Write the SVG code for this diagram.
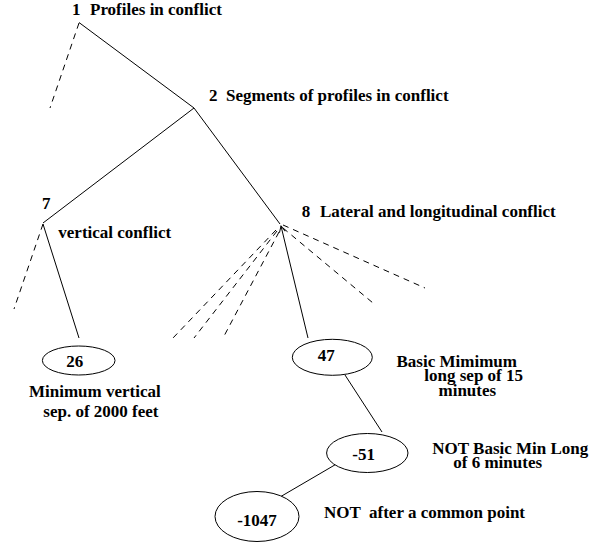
<svg xmlns="http://www.w3.org/2000/svg" width="591" height="542" viewBox="0 0 591 542">
<style>
text{font-family:"Liberation Serif","Times New Roman",serif;font-weight:bold;font-size:17px;fill:#000}
.e{fill:#fff;stroke:#000;stroke-width:1}
.s{stroke:#000;stroke-width:1;fill:none}
.d{stroke:#000;stroke-width:1;fill:none;stroke-dasharray:6 5}
.m{text-anchor:middle}
</style>
<defs>
<marker id="ah" markerWidth="8" markerHeight="8" refX="7" refY="4" orient="auto" markerUnits="userSpaceOnUse">
<path d="M1,1 L7,4 L1,7" fill="none" stroke="#000" stroke-width="1"/>
</marker>
</defs>
<rect width="591" height="542" fill="#fff"/>
<g id="connectors">
<line class="s" x1="79" y1="22.5" x2="194" y2="108"/>
<line class="d" x1="79" y1="23" x2="50" y2="108"/>
<line class="s" x1="194" y1="108" x2="43" y2="223"/>
<line class="s" x1="194" y1="108" x2="280" y2="224"/>
<line class="d" x1="43" y1="224" x2="14" y2="309"/>
<line class="s" x1="79" y1="338" x2="43" y2="224"/>
<line class="s" x1="308" y1="338" x2="281" y2="226" marker-end="url(#ah)"/>
<line class="d" x1="276" y1="230" x2="173" y2="338"/>
<line class="d" x1="277" y1="231" x2="194" y2="338"/>
<line class="d" x1="279" y1="232" x2="223" y2="338"/>
<line class="d" x1="283" y1="225" x2="425" y2="288"/>
<line class="d" x1="283" y1="228" x2="373" y2="303"/>
<line class="s" x1="345" y1="375" x2="382" y2="432"/>
<line class="s" x1="345" y1="459" x2="280" y2="497"/>
</g>
<g id="n1"><text x="72" y="15">1</text><text x="90" y="15">Profiles in conflict</text></g>
<g id="n2"><text x="209" y="100.7">2</text><text x="226" y="100.7">Segments of profiles in conflict</text></g>
<g id="n7"><text x="42" y="209.3">7</text><text x="58.3" y="237.7">vertical conflict</text></g>
<g id="n8"><text x="301.7" y="216.7">8</text><text x="320" y="216.7">Lateral and longitudinal conflict</text></g>
<g id="n26">
<ellipse class="e" cx="78.7" cy="360.5" rx="36.3" ry="14.5"/>
<text class="m" x="74.7" y="367.3">26</text>
<text x="29" y="396.7">Minimum vertical</text>
<text x="43.3" y="417.3">sep. of 2000 feet</text>
</g>
<g id="n47">
<ellipse class="e" cx="332.3" cy="357.3" rx="40" ry="18"/>
<text class="m" x="326.3" y="360.7">47</text>
<text x="396.5" y="367.3">Basic Mimimum</text>
<text x="424.3" y="380.7">long sep of 15</text>
<text x="438.5" y="395.5">minutes</text>
</g>
<g id="n-51">
<ellipse class="e" cx="367.3" cy="453" rx="40.7" ry="19.5"/>
<text class="m" x="363.7" y="460">-51</text>
<text x="432.3" y="454">NOT Basic Min Long</text>
<text x="453.3" y="468">of 6 minutes</text>
</g>
<g id="n-1047">
<ellipse class="e" cx="257" cy="516.5" rx="42" ry="25"/>
<text class="m" x="257" y="526">-1047</text>
<text x="324" y="518.3" xml:space="preserve">NOT  after a common point</text>
</g>
</svg>
